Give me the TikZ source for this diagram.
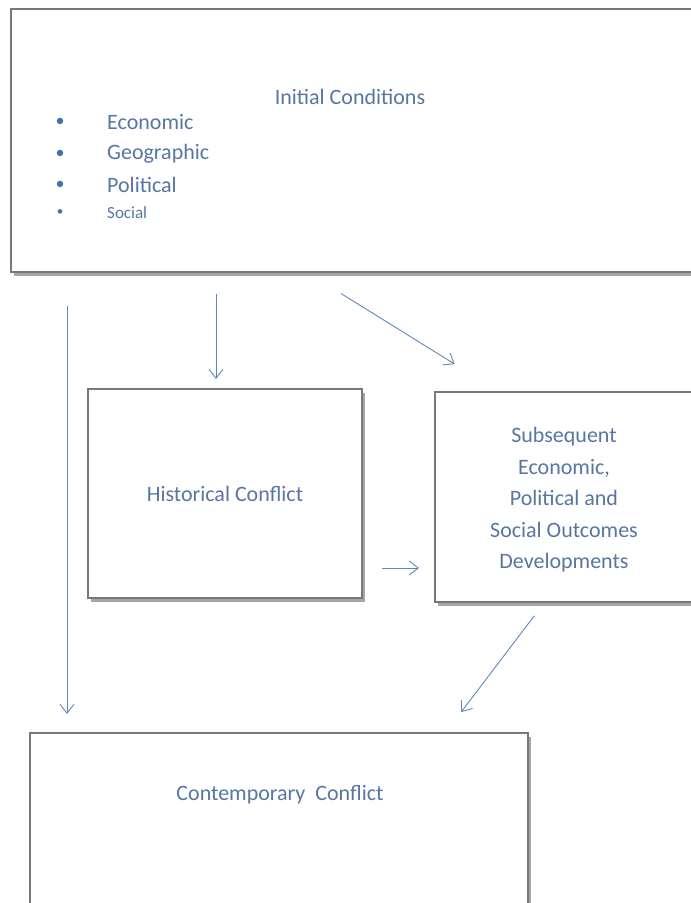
\documentclass[tikz,border=0pt]{standalone}
\usepackage{fontspec}
\setmainfont{Carlito}
\usetikzlibrary{positioning,shadows,arrows.meta}

\definecolor{boxgray}{RGB}{120,120,120}
\definecolor{labelblue}{RGB}{88,118,162}
\definecolor{dotblue}{RGB}{72,112,170}
\definecolor{arrowblue}{RGB}{96,136,180}

\tikzset{
  panel/.style={draw=boxgray, line width=2pt, fill=white,
    drop shadow={shadow xshift=3pt, shadow yshift=-4pt, opacity=0.7, fill=gray}},
  caption/.style={text=labelblue, font=\fontsize{22}{31.5}\selectfont, align=center, inner sep=0pt},
  dot/.style={text=dotblue, font=\fontsize{18}{22}\selectfont, inner sep=0pt},
  arr/.style={draw=arrowblue, line width=0.9pt, -{Straight Barb[length=9pt,width=14pt]}}
}

\begin{document}
\begin{tikzpicture}[x=1pt,y=-1pt]
        \useasboundingbox (0,0) rectangle (691,903);

        \node[panel, minimum width=682pt, minimum height=263pt] (init) at (352,140.5) {};
        \node[caption] (title) at (350,97) {Initial Conditions};
        \foreach \item/\y in {Economic/122, Geographic/154, Political/185} {
            \node[dot] (d\y) at (60,\y) {•};
            \node[caption, anchor=west] (i\y) at (107,\y) {\item};
        }
        \node[dot, font=\fontsize{13}{16}\selectfont] (d213) at (60,213) {•};
        \node[caption, anchor=west, font=\fontsize{17}{20}\selectfont] (i213) at (107,213) {Social};

        \node[panel, minimum width=274pt, minimum height=209pt] (hist) at (225,493.5) {};
        \node[caption] (histlabel) at (hist.center) {Historical Conflict};

        \node[panel, minimum width=258pt, minimum height=210pt] (sub) at (564,497) {};
        \node[caption] (sublabel) at (564,500) {Subsequent\\Economic,\\Political and\\Social Outcomes\\Developments};

        \node[panel, minimum width=498pt, minimum height=179pt] (cont) at (279,822.5) {};
        \node[caption] (contlabel) at (280,795) {Contemporary\ \ Conflict};

        \draw[arr, shorten <=33pt, shorten >=18pt] ([xshift=57pt]init.south west) -- ([xshift=38pt]cont.north west);
        \draw[arr, shorten <=21pt, shorten >=9pt] ([xshift=-9pt]hist.north |- init.south) -- ([xshift=-9pt]hist.north);
        \draw[arr, shorten <=39pt, shorten >=51pt] ([xshift=298pt]init.south west) -- ([xshift=64pt]sub.north west);
        \draw[arr, shorten <=19pt, shorten >=15pt] ([yshift=-74.5pt]hist.east) -- ([yshift=-74.5pt]hist.east -| sub.west);
        \draw[arr, shorten <=16pt, shorten >=25pt] ([xshift=110pt]sub.south west) -- ([xshift=417pt]cont.north west);
    \end{tikzpicture}
\end{document}
